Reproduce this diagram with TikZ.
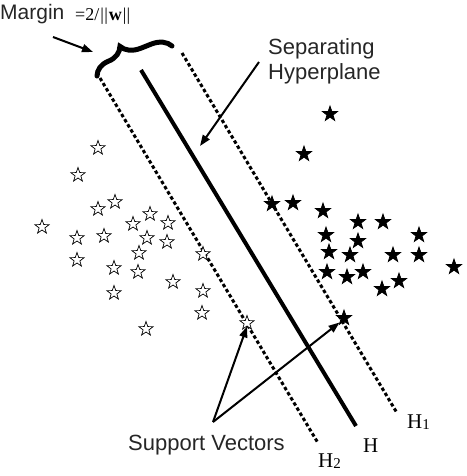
\documentclass[tikz,border=0pt]{standalone}
\usepackage{fontspec}
\setmainfont{Liberation Serif}
\setsansfont{Liberation Sans}
\usetikzlibrary{shapes.geometric,arrows.meta,decorations.pathreplacing}
\begin{document}
\begin{tikzpicture}[x=1pt,y=-1pt,
  ostar/.style={star,star points=5,star point ratio=2.5,minimum size=15pt,inner sep=0pt,draw=black,fill=white,line width=0.7pt},
  fstar/.style={ostar,minimum size=16pt,fill=black},
  hline/.style={line width=4pt},
  mline/.style={line width=3pt,dash pattern=on 3.5pt off 2.5pt},
  arr/.style={line width=2pt,-{Triangle[length=11pt,width=8pt]}},
  lab/.style={font=\sffamily\fontsize{22}{25}\selectfont,text=black!85,inner sep=0pt,anchor=base west},
  hlab/.style={font=\rmfamily\fontsize{21}{21}\selectfont,inner sep=0pt,anchor=base west}]
\useasboundingbox (0,0) rectangle (466,476);

% hyperplanes
\coordinate (h2t) at (100,78);  \coordinate (h2b) at (318,443);
\coordinate (ht)  at (141,70);  \coordinate (hb)  at (356,426);
\coordinate (h1t) at (182,53);  \coordinate (h1b) at (397,413);
\draw[mline] (h2t) -- (h2b);
\draw[hline] (ht) -- (hb);
\draw[mline] (h1t) -- (h1b);

% brace
\coordinate (bl) at (97,76);
\coordinate (br) at (172,46);
\draw[line width=5pt,line cap=round,decorate,decoration={brace,amplitude=19pt,aspect=0.4}] (bl) -- (br);

% open stars
\foreach \a/\b [count=\i] in {98/148,78/175,115/202,98/209,42/227,150/214,168/223,133/224,77/238,104/236,147/238,167/242,203/254,139/253,77/260,114/268,138/272,173/282,203/291,114/293,202/313,146/329}
  {\node[ostar] (o\i) at (\a,\b) {};}
\node[ostar] (sv2) at (247,323) {};

% filled stars
\foreach \a/\b [count=\i] in {330/114,304/154,272/204,293/203,323/211,358/222,383/222,326/235,358/241,419/235,329/252,350/255,393/255,419/255,454/267,327/272,347/277,363/272,399/281,382/289}
  {\node[fstar] (f\i) at (\a,\b) {};}
\node[fstar] (sv1) at (344,318) {};

% labels
\node[lab,font=\sffamily\fontsize{21}{21}\selectfont] (margin) at (0,20) {Margin};
\node[inner sep=0pt,anchor=base west,font=\rmfamily\fontsize{18}{18}\selectfont] (formula) at (75,21) {=2/\kern1pt|\kern0.3pt|\kern1pt\textbf{w}\kern1pt|\kern0.3pt|};
\node[lab] (sep1) at (268,55) {Separating};
\node[lab] (sep2) at (268,80) {Hyperplane};
\node[lab] (svtext) at (128,450) {Support Vectors};
\node[hlab] (lh1) at (407,428) {H\raisebox{-1pt}{\fontsize{15}{15}\selectfont 1}};
\node[hlab] (lh) at (363,452) {H};
\node[hlab] (lh2) at (318,467) {H\raisebox{-1pt}{\fontsize{15}{15}\selectfont 2}};

% arrows
\coordinate (ma) at (53,37);
\coordinate (mb) at (93,52);
\draw[arr] (ma) -- (mb);
\coordinate (sa) at (259,62);
\coordinate (sb) at (200,146);
\draw[arr] (sa) -- (sb);
\coordinate (sv) at (213,422);
\draw[arr] (sv) -- (sv2.south);
\draw[arr] (sv) -- (sv1.south west);
\end{tikzpicture}
\end{document}
